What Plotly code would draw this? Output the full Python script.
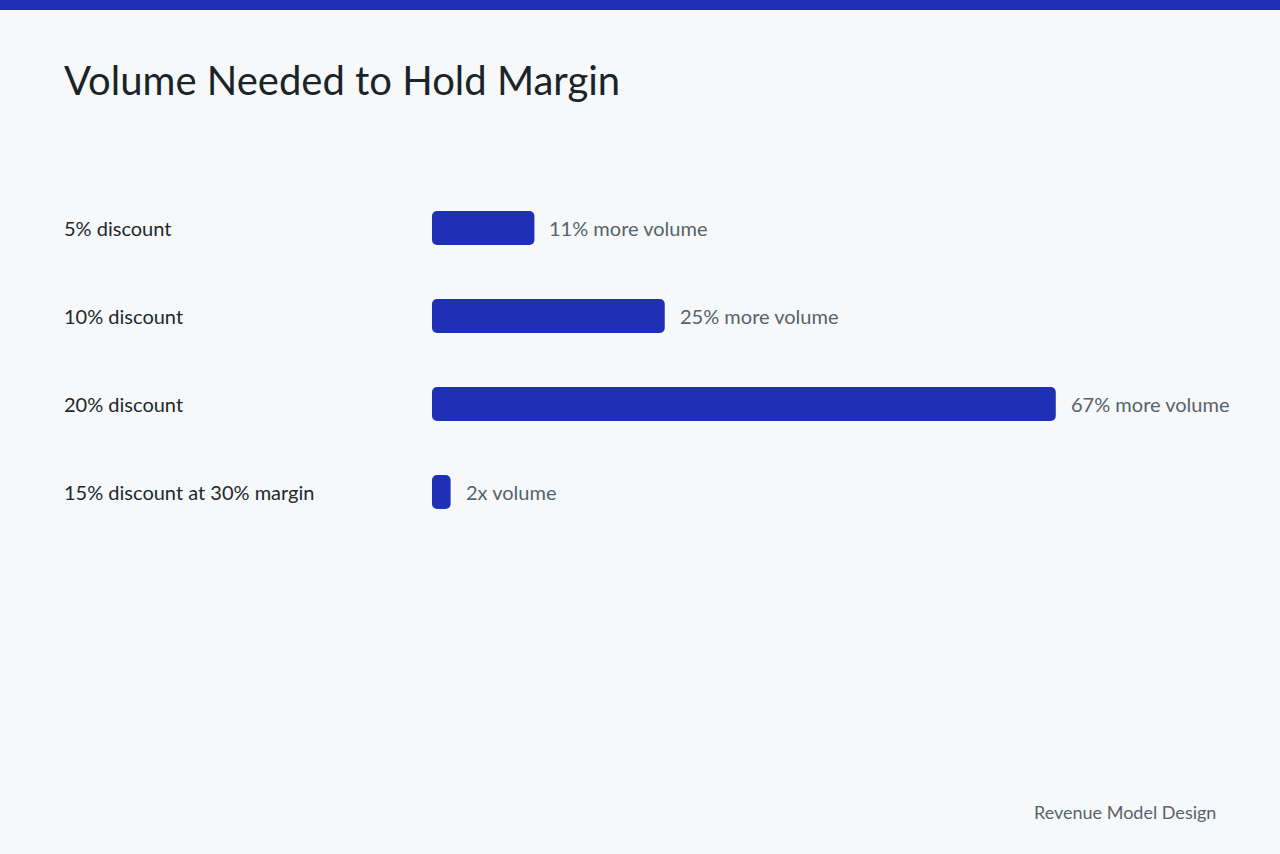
import plotly.graph_objects as go

# Chart data
categories = ["5% discount", "10% discount", "20% discount", "15% discount at 30% margin"]
volume_needed = [11, 25, 67, 2]
value_labels = ["11% more volume", "25% more volume", "67% more volume", "2x volume"]

title_text = "Volume Needed to Hold Margin"
footer_text = "Revenue Model Design"

# Style
W, H = 1280, 854
FONT = "Source Sans Pro, Lato, sans-serif"
BAR_COLOR = "#1f30b6"
BG = "#f6f8fa"
LABEL_COLOR = "#1e282d"
VALUE_COLOR = "#56636a"

# plot area in pixels
L, R, T, B = 432, 64, 184, 318
plot_w = W - L - R
plot_h = H - T - B
row_h = plot_h / len(categories)
bar_w = 34 / row_h  # 34px tall bars, edges on whole pixels

fig = go.Figure()

# each bar is drawn as two overlapping pieces so both ends get rounded corners
# piece 1: 25%..100% of value (rounded at the right end)
# piece 2: 75%..0% of value (rounded at the left end)
fig.add_trace(go.Bar(
    x=[v * 0.75 for v in volume_needed], base=[v * 0.25 for v in volume_needed],
    y=categories, orientation="h",
    marker=dict(color=BAR_COLOR, line=dict(width=0)),
    width=bar_w, hoverinfo="skip", showlegend=False,
))
fig.add_trace(go.Bar(
    x=[-v * 0.75 for v in volume_needed], base=[v * 0.75 for v in volume_needed],
    y=categories, orientation="h",
    marker=dict(color=BAR_COLOR, line=dict(width=0)),
    width=bar_w, hoverinfo="skip", showlegend=False,
))

annotations = []

# category labels on the left, left-aligned
for cat in categories:
    annotations.append(dict(
        x=(62 - L) / plot_w, xref="paper", y=cat, yref="y",
        text=cat, showarrow=False, xanchor="left", yanchor="middle", align="left",
        font=dict(family=FONT, size=20, color=LABEL_COLOR),
    ))

# value labels to the right of each bar
for cat, val, lab in zip(categories, volume_needed, value_labels):
    annotations.append(dict(
        x=val, xref="x", y=cat, yref="y",
        text=lab, showarrow=False, xanchor="left", yanchor="middle", align="left",
        xshift=13,
        font=dict(family=FONT, size=20, color=VALUE_COLOR),
    ))

# title
annotations.append(dict(
    x=(62 - L) / plot_w, xref="paper", y=1 + (T - 80) / plot_h, yref="paper",
    text=title_text, showarrow=False, xanchor="left", yanchor="middle", align="left",
    font=dict(family=FONT, size=40, color="#1a2428"),
))

# footer
annotations.append(dict(
    x=1, xref="paper", y=-(812 - T - plot_h) / plot_h, yref="paper",
    text=footer_text, showarrow=False, xanchor="right", yanchor="middle", align="right",
    xshift=2,
    font=dict(family=FONT, size=18, color=VALUE_COLOR),
))

fig.update_layout(
    width=W, height=H,
    margin=dict(l=L, r=R, t=T, b=B, pad=0),
    paper_bgcolor=BG,
    plot_bgcolor=BG,
    font=dict(family=FONT),
    barmode="overlay",
    barcornerradius=5,
    annotations=annotations,
    xaxis=dict(range=[0, plot_w / 9.31], visible=False, fixedrange=True),
    yaxis=dict(categoryorder="array", categoryarray=categories,
               autorange="reversed", visible=False, fixedrange=True),
    shapes=[dict(
        type="rect", xref="paper", yref="paper",
        x0=-L / plot_w, x1=1 + R / plot_w,
        y0=1 + (T - 10) / plot_h, y1=1 + T / plot_h,
        fillcolor=BAR_COLOR, line=dict(width=0), layer="above",
    )],
)

fig.write_html("out.html", config={"displayModeBar": False},
               post_script="document.body.style.margin='0';")
